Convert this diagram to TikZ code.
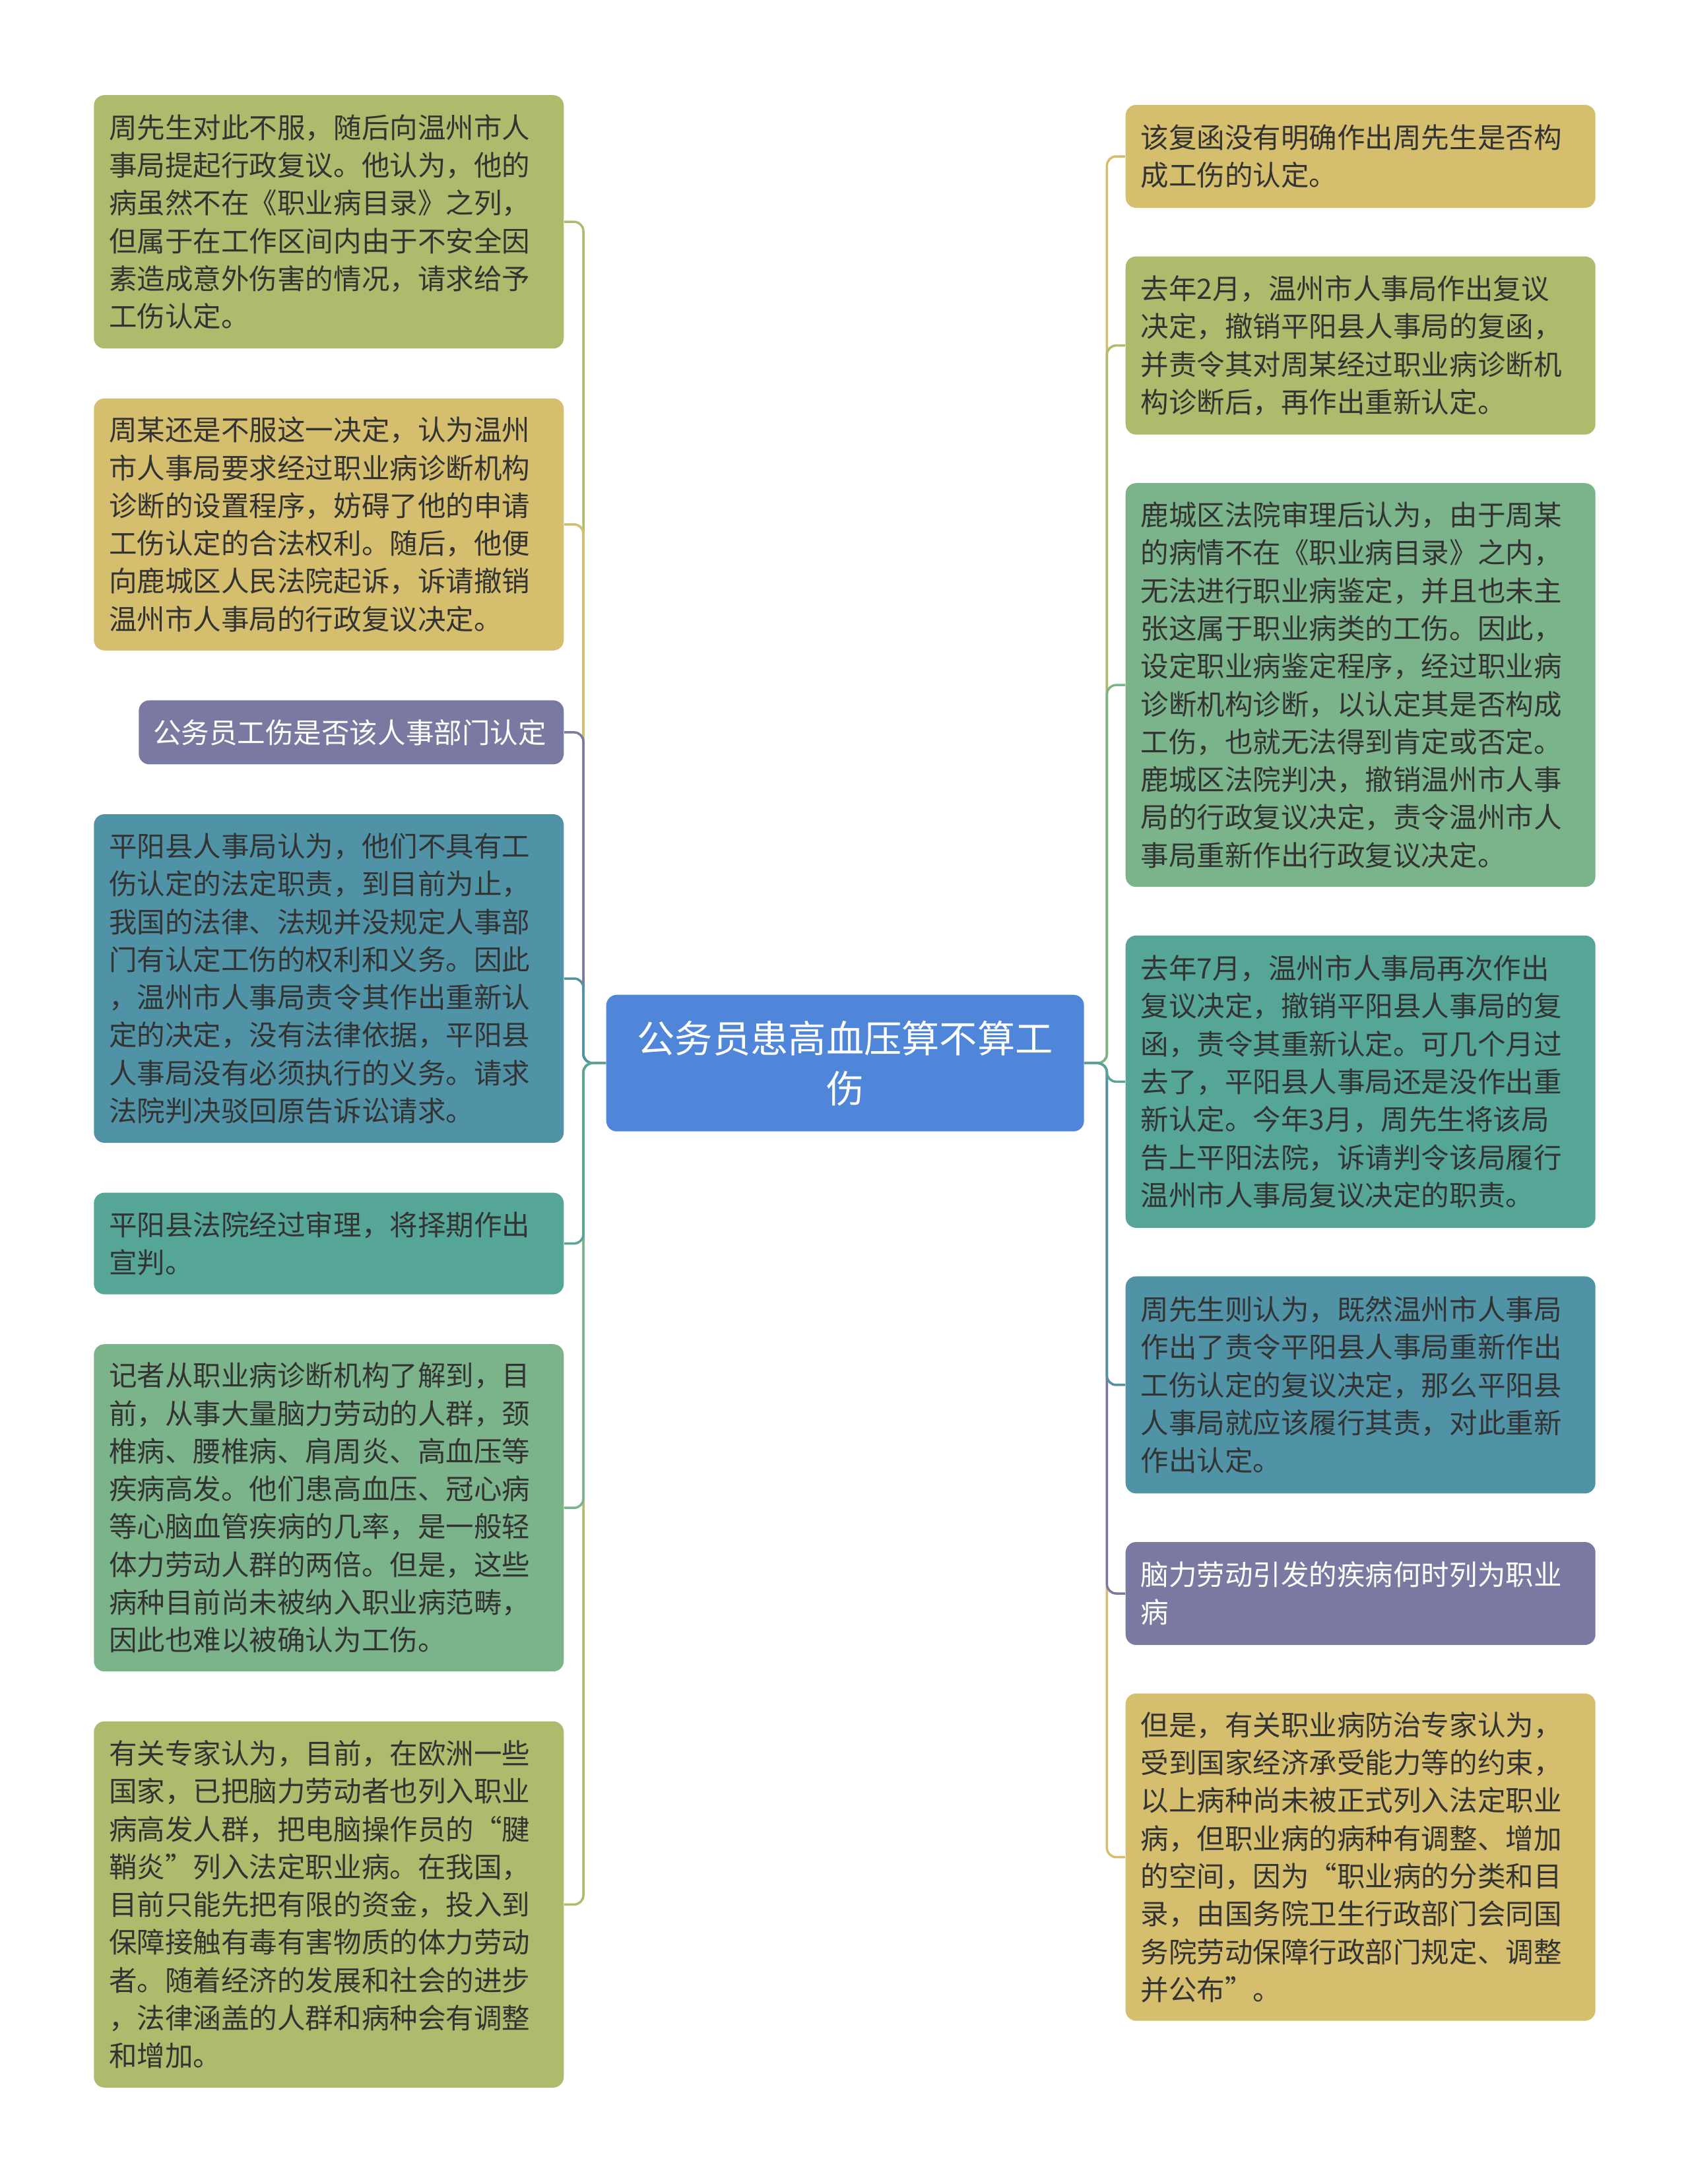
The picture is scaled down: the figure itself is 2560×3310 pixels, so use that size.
\documentclass[tikz,border=0pt]{standalone}
\usepackage{fontspec}
\setmainfont{Noto Sans CJK SC}
\usetikzlibrary{positioning}
\definecolor{hubc}{HTML}{4F86D9}
\definecolor{olivec}{HTML}{B0BA6D}
\definecolor{goldc}{HTML}{D5BF6E}
\definecolor{purplec}{HTML}{7979A1}
\definecolor{tealbc}{HTML}{5093A6}
\definecolor{tealgc}{HTML}{56A697}
\definecolor{greenc}{HTML}{7BB48B}
\definecolor{ink}{HTML}{333333}
\newcommand{\leaffont}{\fontsize{12.1pt}{16.3pt}\selectfont}
\newcommand{\hubfont}{\fontsize{16.3pt}{21.6pt}\selectfont}

\begin{document}
\begin{tikzpicture}[x=0.1mm,y=-0.1mm,
 hub/.style={fill=hubc,rounded corners=1.6mm,minimum width=72.4mm,minimum height=20.7mm,text width=66mm,align=center,text=white,font=\hubfont},
 leaf/.style 2 args={fill=#1,minimum height=#2,rounded corners=1.6mm,minimum width=71.2mm,text width=66.6mm,inner xsep=2.3mm,inner ysep=1mm,align=left,text=ink,font=\leaffont},
 link/.style={draw=#1,line width=0.35mm,rounded corners=1.4mm}]
\useasboundingbox[fill=white] (0,0) rectangle (2560,3310);

\node[hub,anchor=north west] (hub) at (918,1507) {公务员患高血压算不算工\\伤};

% left column
\node[leaf={olivec}{38.4mm},anchor=north east] (l1) at (855,143.5) {周先生对此不服，随后向温州市人\\
事局提起行政复议。他认为，他的\\
病虽然不在《职业病目录》之列，\\
但属于在工作区间内由于不安全因\\
素造成意外伤害的情况，请求给予\\
工伤认定。};
\node[leaf={goldc}{38.2mm},below=7.42mm of l1.south east,anchor=north east] (l2) {周某还是不服这一决定，认为温州\\
市人事局要求经过职业病诊断机构\\
诊断的设置程序，妨碍了他的申请\\
工伤认定的合法权利。随后，他便\\
向鹿城区人民法院起诉，诉请撤销\\
温州市人事局的行政复议决定。};
\node[leaf={purplec}{9.7mm},text=white,minimum width=64.4mm,text width=60mm,inner xsep=2.2mm,below=7.42mm of l2.south east,anchor=north east] (l3) {公务员工伤是否该人事部门认定};
\node[leaf={tealbc}{49.8mm},below=7.42mm of l3.south east,anchor=north east] (l4) {平阳县人事局认为，他们不具有工\\
伤认定的法定职责，到目前为止，\\
我国的法律、法规并没规定人事部\\
门有认定工伤的权利和义务。因此\\
，温州市人事局责令其作出重新认\\
定的决定，没有法律依据，平阳县\\
人事局没有必须执行的义务。请求\\
法院判决驳回原告诉讼请求。};
\node[leaf={tealgc}{15.4mm},below=7.42mm of l4.south east,anchor=north east] (l5) {平阳县法院经过审理，将择期作出\\
宣判。};
\node[leaf={greenc}{49.6mm},below=7.42mm of l5.south east,anchor=north east] (l6) {记者从职业病诊断机构了解到，目\\
前，从事大量脑力劳动的人群，颈\\
椎病、腰椎病、肩周炎、高血压等\\
疾病高发。他们患高血压、冠心病\\
等心脑血管疾病的几率，是一般轻\\
体力劳动人群的两倍。但是，这些\\
病种目前尚未被纳入职业病范畴，\\
因此也难以被确认为工伤。};
\node[leaf={olivec}{55.5mm},below=7.42mm of l6.south east,anchor=north east] (l7) {有关专家认为，目前，在欧洲一些\\
国家，已把脑力劳动者也列入职业\\
病高发人群，把电脑操作员的“腱\\
鞘炎”列入法定职业病。在我国，\\
目前只能先把有限的资金，投入到\\
保障接触有毒有害物质的体力劳动\\
者。随着经济的发展和社会的进步\\
，法律涵盖的人群和病种会有调整\\
和增加。};

% right column
\node[leaf={goldc}{15.6mm},anchor=north west] (r1) at (1705,158.3) {该复函没有明确作出周先生是否构\\
成工伤的认定。};
\node[leaf={olivec}{27mm},below=7.22mm of r1.south west,anchor=north west] (r2) {去年2月，温州市人事局作出复议\\
决定，撤销平阳县人事局的复函，\\
并责令其对周某经过职业病诊断机\\
构诊断后，再作出重新认定。};
\node[leaf={greenc}{61.2mm},below=7.22mm of r2.south west,anchor=north west] (r3) {鹿城区法院审理后认为，由于周某\\
的病情不在《职业病目录》之内，\\
无法进行职业病鉴定，并且也未主\\
张这属于职业病类的工伤。因此，\\
设定职业病鉴定程序，经过职业病\\
诊断机构诊断，以认定其是否构成\\
工伤，也就无法得到肯定或否定。\\
鹿城区法院判决，撤销温州市人事\\
局的行政复议决定，责令温州市人\\
事局重新作出行政复议决定。};
\node[leaf={tealgc}{44.3mm},below=7.22mm of r3.south west,anchor=north west] (r4) {去年7月，温州市人事局再次作出\\
复议决定，撤销平阳县人事局的复\\
函，责令其重新认定。可几个月过\\
去了，平阳县人事局还是没作出重\\
新认定。今年3月，周先生将该局\\
告上平阳法院，诉请判令该局履行\\
温州市人事局复议决定的职责。};
\node[leaf={tealbc}{32.9mm},below=7.22mm of r4.south west,anchor=north west] (r5) {周先生则认为，既然温州市人事局\\
作出了责令平阳县人事局重新作出\\
工伤认定的复议决定，那么平阳县\\
人事局就应该履行其责，对此重新\\
作出认定。};
\node[leaf={purplec}{15.6mm},text=white,below=7.22mm of r5.south west,anchor=north west] (r6) {脑力劳动引发的疾病何时列为职业\\
病};
\node[leaf={goldc}{49.6mm},below=7.22mm of r6.south west,anchor=north west] (r7) {但是，有关职业病防治专家认为，\\
受到国家经济承受能力等的约束，\\
以上病种尚未被正式列入法定职业\\
病，但职业病的病种有调整、增加\\
的空间，因为“职业病的分类和目\\
录，由国务院卫生行政部门会同国\\
务院劳动保障行政部门规定、调整\\
并公布”。};

% connectors
\coordinate[left=3.4mm of hub.west] (lfork);
\coordinate[right=3.4mm of hub.east] (rfork);
\draw[link=olivec] (hub.west) -- (lfork) |- (l1.east);
\draw[link=goldc] (hub.west) -- (lfork) |- (l2.east);
\draw[link=purplec] (hub.west) -- (lfork) |- (l3.east);
\draw[link=tealbc] (hub.west) -- (lfork) |- (l4.east);
\draw[link=olivec] (hub.west) -- (lfork) |- (l7.east);
\draw[link=greenc] (hub.west) -- (lfork) |- (l6.east);
\draw[link=tealgc] (hub.west) -- (lfork) |- (l5.east);
\draw[link=goldc] (hub.east) -- (rfork) |- (r1.west);
\draw[link=olivec] (hub.east) -- (rfork) |- (r2.west);
\draw[link=greenc] (hub.east) -- (rfork) |- (r3.west);
\draw[link=goldc] (hub.east) -- (rfork) |- (r7.west);
\draw[link=purplec] (hub.east) -- (rfork) |- (r6.west);
\draw[link=tealbc] (hub.east) -- (rfork) |- (r5.west);
\draw[link=tealgc] (hub.east) -- (rfork) |- (r4.west);
\end{tikzpicture}
\end{document}
